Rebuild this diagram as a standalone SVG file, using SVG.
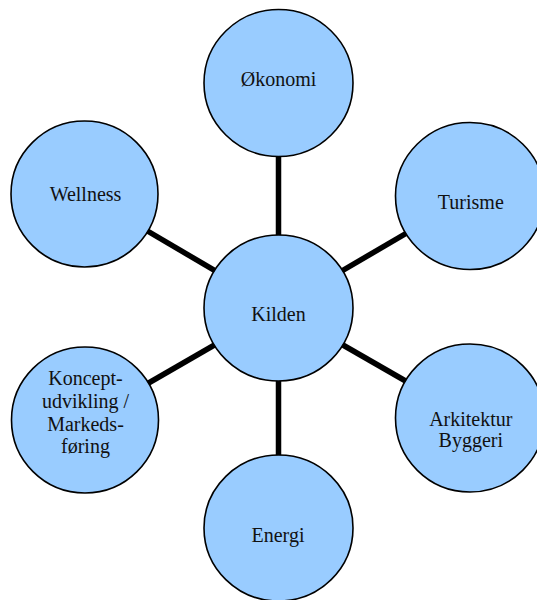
<svg xmlns="http://www.w3.org/2000/svg" width="537" height="600" viewBox="0 0 537 600">
<style>
.n{fill:#99CCFF;stroke:#000;stroke-width:1.6}
.t{font-family:"Liberation Serif","Times New Roman",serif;font-size:20px;fill:#111;text-anchor:middle}
.c line{stroke:#000;stroke-width:5.5}
</style>
<rect width="537" height="600" fill="#fff"/>
<g id="connectors" class="c">
<line x1="278.5" y1="83" x2="278.5" y2="308"/>
<line x1="470" y1="196" x2="278.5" y2="308"/>
<line x1="84.5" y1="194" x2="278.5" y2="308"/>
<line x1="84.5" y1="420" x2="278.5" y2="308"/>
<line x1="470" y1="418" x2="278.5" y2="308"/>
<line x1="278.5" y1="528" x2="278.5" y2="308"/>
</g>
<g id="okonomi"><ellipse class="n" cx="278.5" cy="83" rx="74.5" ry="73.5"/><text class="t" x="278.5" y="86">Økonomi</text></g>
<g id="turisme"><ellipse class="n" cx="470" cy="196" rx="74.5" ry="73.5"/><text class="t" x="470.8" y="209">Turisme</text></g>
<g id="wellness"><ellipse class="n" cx="84.5" cy="194" rx="73.5" ry="73"/><text class="t" x="85.5" y="200.5">Wellness</text></g>
<g id="kilden"><ellipse class="n" cx="278.5" cy="308" rx="74.5" ry="73"/><text class="t" x="278.5" y="320.5">Kilden</text></g>
<g id="koncept"><ellipse class="n" cx="85" cy="420" rx="73.5" ry="73"/><text class="t" x="85.5" y="385">Koncept-</text><text class="t" x="85.5" y="407.5">udvikling /</text><text class="t" x="85.5" y="430.5">Markeds-</text><text class="t" x="85.5" y="453.3">føring</text></g>
<g id="arkitektur"><ellipse class="n" cx="470" cy="418" rx="74.5" ry="74"/><text class="t" x="470.8" y="425.5">Arkitektur</text><text class="t" x="470.8" y="447.3">Byggeri</text></g>
<g id="energi"><ellipse class="n" cx="278.5" cy="528" rx="74.5" ry="73"/><text class="t" x="278" y="542.3">Energi</text></g>
</svg>
